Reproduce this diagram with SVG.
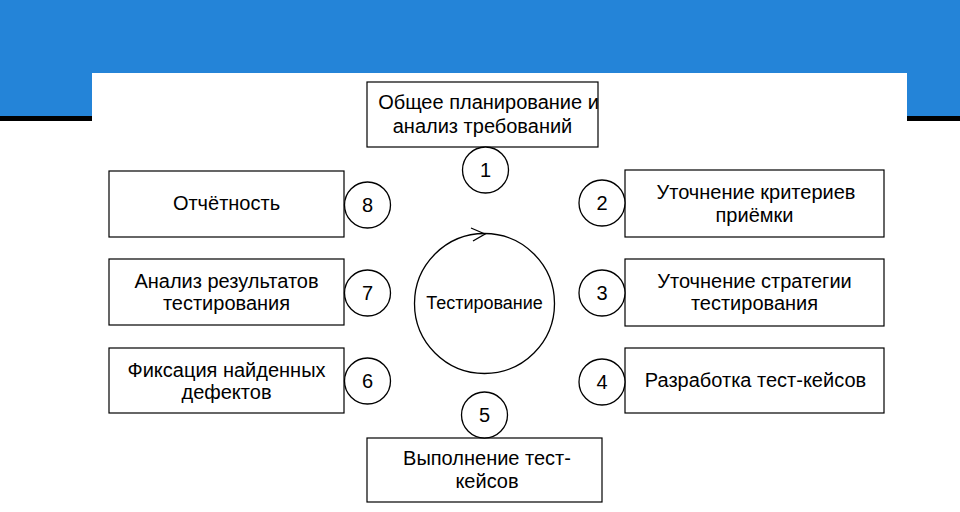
<svg xmlns="http://www.w3.org/2000/svg" width="960" height="512" viewBox="0 0 960 512">
<style>
.box{fill:#fff;stroke:#000;stroke-width:1.2}
.num{fill:#fff;stroke:#000;stroke-width:1.3}
.t{font-family:"Liberation Sans",Arial,sans-serif;font-size:20px;fill:#000;text-anchor:middle}
.n{font-family:"Liberation Sans",Arial,sans-serif;font-size:20px;fill:#000;text-anchor:middle}
</style>
<rect x="0" y="0" width="960" height="512" fill="#fff"/>
<rect x="0" y="0" width="960" height="116" fill="#2484d8"/>
<rect x="0" y="116" width="92" height="5" fill="#000"/>
<rect x="907" y="116" width="53" height="5" fill="#000"/>
<rect x="92" y="73" width="815" height="439" fill="#fff"/>

<g id="connectors">
<circle cx="484.5" cy="303.5" r="70" fill="none" stroke="#000" stroke-width="1.3"/>
<polyline points="471,228 485,234 473,241" fill="none" stroke="#000" stroke-width="1.3"/>
</g>

<g id="center"><text class="t" x="484.5" y="309" style="font-size:18px">Тестирование</text></g>

<g id="n1">
<rect class="box" x="367" y="82" width="231" height="65"/>
<text class="t" x="488.5" y="109">Общее планирование и</text>
<text class="t" x="482.5" y="133">анализ требований</text>
<circle class="num" cx="485.5" cy="170" r="23"/>
<text class="n" x="485.5" y="177">1</text>
</g>
<g id="n2">
<rect class="box" x="625" y="170" width="259" height="67"/>
<text class="t" x="756" y="199">Уточнение критериев</text>
<text class="t" x="754.5" y="222">приёмки</text>
<circle class="num" cx="602" cy="203" r="23"/>
<text class="n" x="602" y="210">2</text>
</g>
<g id="n3">
<rect class="box" x="625" y="259" width="259" height="67"/>
<text class="t" x="754.5" y="288">Уточнение стратегии</text>
<text class="t" x="754.5" y="310">тестирования</text>
<circle class="num" cx="602" cy="293" r="23"/>
<text class="n" x="602" y="300">3</text>
</g>
<g id="n4">
<rect class="box" x="625" y="348" width="259" height="65"/>
<text class="t" x="755.5" y="387">Разработка тест-кейсов</text>
<circle class="num" cx="602" cy="382" r="23"/>
<text class="n" x="602" y="389">4</text>
</g>
<g id="n5">
<rect class="box" x="367" y="438" width="235" height="64"/>
<text class="t" x="487" y="465">Выполнение тест-</text>
<text class="t" x="487" y="488">кейсов</text>
<circle class="num" cx="484.5" cy="415" r="23"/>
<text class="n" x="484.5" y="422">5</text>
</g>
<g id="n6">
<rect class="box" x="109" y="348" width="235" height="65"/>
<text class="t" x="226.5" y="377">Фиксация найденных</text>
<text class="t" x="226.5" y="399">дефектов</text>
<circle class="num" cx="367.5" cy="381" r="23"/>
<text class="n" x="367.5" y="388">6</text>
</g>
<g id="n7">
<rect class="box" x="109" y="259" width="235" height="66"/>
<text class="t" x="226.5" y="288">Анализ результатов</text>
<text class="t" x="226.5" y="310">тестирования</text>
<circle class="num" cx="367.5" cy="293" r="23"/>
<text class="n" x="367.5" y="300">7</text>
</g>
<g id="n8">
<rect class="box" x="109" y="171" width="235" height="66"/>
<text class="t" x="226.5" y="210">Отчётность</text>
<circle class="num" cx="367.5" cy="205" r="23"/>
<text class="n" x="367.5" y="212">8</text>
</g>
</svg>
